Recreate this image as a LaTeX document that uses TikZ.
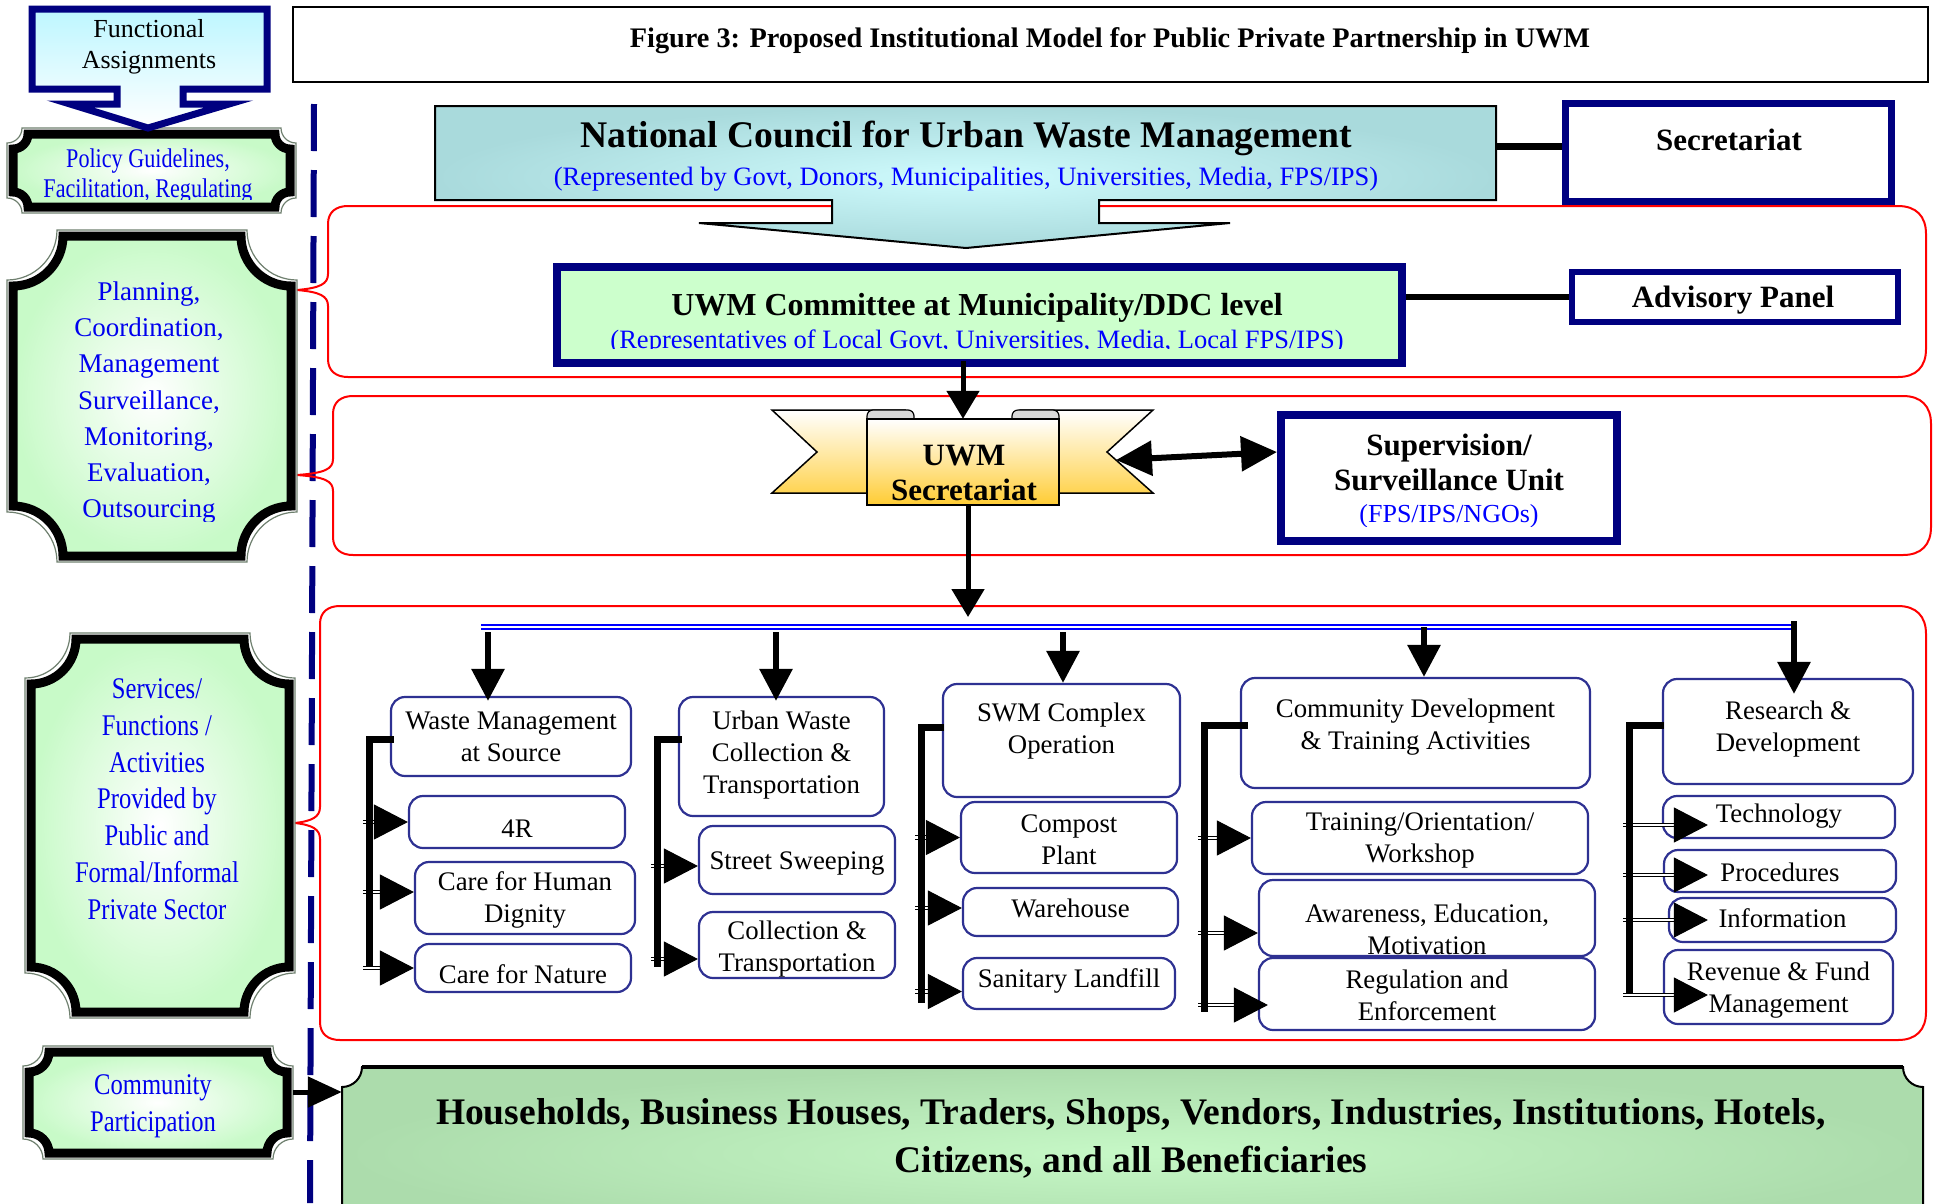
\documentclass[tikz,border=0pt]{standalone}
\usepackage{fontspec}
\setmainfont{Liberation Serif}
\newfontfamily\condfont[FakeStretch=0.82]{Liberation Serif}
\usetikzlibrary{arrows.meta}
\definecolor{navy}{HTML}{000080}
\definecolor{bxblue}{HTML}{2E3192}
\definecolor{tblue}{HTML}{0000FF}
\definecolor{lblue}{HTML}{0000EE}
\definecolor{lgreen}{HTML}{C8FAC8}
\definecolor{cgreen}{HTML}{CCFFCC}
\definecolor{pgreen}{HTML}{C6F8C6}
\definecolor{dgreen}{HTML}{ACDCAC}
\definecolor{tealA}{HTML}{A9DADC}
\definecolor{tealB}{HTML}{CFFBFD}
\definecolor{gold}{HTML}{FFCC33}
\definecolor{cyanA}{HTML}{BDF6FF}
\definecolor{plqgray}{HTML}{6F806F}
\definecolor{rred}{HTML}{FF0000}
\newcommand\fsz[2]{\fontsize{#1pt}{#2pt}\selectfont}
% plaque path: x1 y1 x2 y2 r
\newcommand\plq[5]{(#1+#5,#2) -- (#3-#5,#2) .. controls (#3-#5,#2+0.55*#5) and (#3-0.55*#5,#2+#5) .. (#3,#2+#5) -- (#3,#4-#5) .. controls (#3-0.55*#5,#4-#5) and (#3-#5,#4-0.55*#5) .. (#3-#5,#4) -- (#1+#5,#4) .. controls (#1+#5,#4-0.55*#5) and (#1+0.55*#5,#4-#5) .. (#1,#4-#5) -- (#1,#2+#5) .. controls (#1+0.55*#5,#2+#5) and (#1+#5,#2+0.55*#5) .. (#1+#5,#2) -- cycle}
\newcommand\plaque[5]{%
  \draw[line width=1.2, draw=plqgray] \plq{#1}{#2}{#3}{#4}{#5};
  \shadedraw[inner color=white, outer color=lgreen, draw=black, line width=9] \plq{#1+6}{#2+6}{#3-6}{#4-6}{#5};}
% red brace region: L T R B tipx tipy
\newcommand\redreg[6]{\draw[redl] (#5,#6) .. controls (#1-8,#6-2) and (#1,#6-6) .. (#1,#6-16) -- (#1,#2+18) .. controls (#1,#2+6) and (#1+8,#2) .. (#1+20,#2) -- (#3-28,#2) .. controls (#3-10,#2) and (#3,#2+10) .. (#3,#2+28) -- (#3,#4-28) .. controls (#3,#4-10) and (#3-10,#4) .. (#3-28,#4) -- (#1+20,#4) .. controls (#1+8,#4) and (#1,#4-6) .. (#1,#4-18) -- (#1,#6+16) .. controls (#1,#6+6) and (#1-8,#6+2) .. (#5,#6);}
% sub box: name x1 y1 x2 y2 texty text
\newcommand\mybox[7]{%
  \node[sbx, minimum width={#4-#2}, minimum height={#5-#3}] (#1) at ({(#2+#4)/2},{(#3+#5)/2}) {};
  \node[stx] (#1t) at ({(#2+#4)/2},#6) {#7};}
\begin{document}
\begin{tikzpicture}[x=1pt,y=-1pt,
  redl/.style={draw=rred, line width=2},
  sbx/.style={draw=bxblue, line width=2.2, rounded corners=14, fill=white, inner sep=0},
  stx/.style={font=\fsz{26.8}{32}, align=center, inner sep=0},
  navybox/.style={draw=navy, fill=white, inner sep=0},
  brk/.style={line width=7, line join=miter},
  stubd/.style={draw=black, line width=1.3, double=white, double distance=2.2},
  tipd/.style={line width=1, -{Triangle[length=34pt,width=35pt]}},
  barr/.style={line width=6, -{Triangle[length=32pt,width=32pt]}},
  varr/.style={line width=5, -{Triangle[length=28pt,width=32pt]}},
  ptxt/.style={anchor=base, inner sep=0, text=lblue},
  btxt/.style={anchor=base, inner sep=0, font=\bfseries\fsz{31}{36}},
  invis/.style={inner sep=0}
]
\useasboundingbox (0,0) rectangle (1933,1203);
\fill[white] (0,0) rectangle (1933,1203);

% dashed separator
\draw[navy, line width=6, dash pattern=on 47pt off 19pt] (314,104) -- (310,1203);

% red brace regions
\redreg{328}{206}{1926}{377}{297}{290}
\redreg{333}{396}{1931}{555}{297}{475}
\redreg{320}{606}{1926}{1040}{295}{823}

% title
\node[draw, line width=1.5, minimum width=1635, minimum height=75, inner sep=0] (ttl) at (1110.5,44.5) {};
\node[anchor=base, inner sep=0, font=\bfseries\fsz{28.3}{32}] (ttlt) at (1110,47) {Figure 3: Proposed Institutional Model for Public Private Partnership in UWM};

% left plaques
\plaque{7}{128}{296}{213}{15}
\node[invis, minimum width=289, minimum height=85] (pol) at (151.5,170.5) {};
\begin{scope}
\clip (0,128) rectangle (300,199);
\node[ptxt, font=\condfont\fsz{27}{30}] (polt1) at (148,167) {Policy Guidelines,};
\node[ptxt, font=\condfont\fsz{27}{30}] (polt2) at (148,197) {Facilitation, Regulating};
\end{scope}

\plaque{7}{230}{297}{562}{50}
\node[invis, minimum width=290, minimum height=332] (pln) at (152,396) {};
\begin{scope}
\clip (0,230) rectangle (300,521);
\foreach \y/\t [count=\i] in {300/{Planning,}, 336/{Coordination,}, 372/{Management}, 409/{Surveillance,}, 445/{Monitoring,}, 481/{Evaluation,}, 517/{Outsourcing}}
  \node[ptxt, font=\fsz{27}{30}] (plnt\i) at (149,\y) {\t};
\end{scope}

\plaque{25}{633}{295}{1018}{45}
\node[invis, minimum width=270, minimum height=385] (svc) at (160,825.5) {};
\foreach \y/\t [count=\i] in {698/{Services/}, 735/{Functions /}, 772/{Activities}, 808/{Provided by}, 845/{Public and}, 882/{Formal/Informal}, 919/{Private Sector}}
  \node[ptxt, font=\condfont\fsz{30}{34}] (svct\i) at (157,\y) {\t};

\plaque{23}{1046}{293}{1159}{20}
\node[invis, minimum width=270, minimum height=113] (pcp) at (158,1102.5) {};
\node[ptxt, font=\condfont\fsz{30}{34}] (pcpt1) at (153,1094) {Community};
\node[ptxt, font=\condfont\fsz{30}{34}] (pcpt2) at (153,1131) {Participation};

% functional assignments callout
\shadedraw[top color=cyanA, bottom color=white, draw=navy, line width=7, line join=miter]
  (32,9) -- (267,9) -- (267,89) -- (183,89) -- (183,104) -- (229,104) -- (148,128) -- (70,104) -- (117,104) -- (117,89) -- (32,89) -- cycle;
\node[invis, minimum width=235, minimum height=80] (fa) at (149.5,49) {};
\node[anchor=base, inner sep=0, font=\fsz{26}{31}] (fat1) at (149,37) {Functional};
\node[anchor=base, inner sep=0, font=\fsz{26}{31}] (fat2) at (149,68) {Assignments};

% National council
\shadedraw[inner color=tealB, outer color=tealA, draw=black, line width=2, line join=miter]
  (435,106) -- (1496,106) -- (1496,200) -- (1099,200) -- (1099,223) -- (1230,223) -- (966,248) -- (699,223) -- (832,223) -- (832,200) -- (435,200) -- cycle;
\node[invis, minimum width=1061, minimum height=94] (nc) at (965.5,153) {};
\node[anchor=base, inner sep=0, font=\bfseries\fsz{37.6}{42}] (nct1) at (966,147) {National Council for Urban Waste Management};
\node[anchor=base, inner sep=0, font=\fsz{26.5}{30}, text=tblue] (nct2) at (966,185) {(Represented by Govt, Donors, Municipalities, Universities, Media, FPS/IPS)};

\node[navybox, line width=7, minimum width=326, minimum height=98] (sec) at (1728.5,152.5) {};
\node[btxt] (sect) at (1729,150) {Secretariat};
\draw[line width=7] (nc.east |- 0,146) -- (sec.west |- 0,146);

% committee
\node[navybox, fill=cgreen, line width=8, minimum width=845, minimum height=96] (com) at (979.5,315) {};
\node[btxt, font=\bfseries\fsz{32}{36}] (comt1) at (977,315) {UWM Committee at Municipality/DDC level};
\begin{scope}
\clip (553,263) rectangle (1406,348);
\node[anchor=base, inner sep=0, font=\fsz{26.5}{30}, text=tblue] (comt2) at (977,348) {(Representatives of Local Govt, Universities, Media, Local FPS/IPS)};
\end{scope}
\node[navybox, line width=6, minimum width=326, minimum height=50] (adv) at (1735,297) {};
\node[btxt] (advt) at (1733,307) {Advisory Panel};
\draw[line width=6] (com.east |- adv.west) -- (adv.west);

% UWM secretariat ribbon
\shadedraw[top color=white, bottom color=gold!85, draw=black, line width=1.5, line join=miter]
  (772,410) -- (905,410) -- (905,493) -- (772,493) -- (817,452) -- cycle;
\shadedraw[top color=white, bottom color=gold!85, draw=black, line width=1.5, line join=miter]
  (1153,410) -- (1020,410) -- (1020,493) -- (1153,493) -- (1107,452) -- cycle;
\filldraw[fill=gray!30, draw=black, line width=1.2, rounded corners=6] (867,410) rectangle (914,427);
\filldraw[fill=gray!30, draw=black, line width=1.2, rounded corners=6] (1012,410) rectangle (1059,427);
\shadedraw[top color=white, bottom color=gold, draw=black, line width=1.5] (867,419) -- (1059,419) -- (1059,505) -- (867,505) -- cycle;
\node[invis, minimum width=192, minimum height=86] (rib) at (963,462) {};
\node[btxt] (ribt1) at (964,465) {UWM};
\node[btxt] (ribt2) at (964,500) {Secretariat};
\coordinate (ribR) at (1116,460);

% supervision
\node[navybox, line width=8, minimum width=336, minimum height=126] (sup) at (1449,478) {};
\node[btxt] (supt1) at (1449,455) {Supervision/};
\node[btxt] (supt2) at (1449,490) {Surveillance Unit};
\begin{scope}
\clip (1277,411) rectangle (1621,526);
\node[anchor=base, inner sep=0, font=\fsz{26}{30}, text=tblue] (supt3) at (1449,522) {(FPS/IPS/NGOs)};
\end{scope}
\draw[line width=6, {Triangle[length=36pt,width=34pt]}-{Triangle[length=36pt,width=34pt]}] (ribR) -- ([yshift=26]sup.west);

% vertical arrows
\draw[varr] ([yshift=6]com.south -| rib.north) -- (rib.north);
\coordinate (bartop) at (968,617);
\draw[varr] (rib.south -| bartop) -- (bartop);

% distribution bar
\coordinate (h1) at (481,627);
\coordinate (h2) at (1793,627);
\draw[draw=tblue, line width=2, double=white, double distance=2] (h1) -- (h2);

% sub boxes
\mybox{wms}{391}{697}{631}{776}{737}{Waste Management\\at Source}
\mybox{bfr}{409}{796}{625}{848}{829}{4R}
\mybox{chd}{415}{862}{635}{934}{900}{Care for Human\\Dignity}
\mybox{cfn}{415}{944}{631}{992}{974}{Care for Nature}
\mybox{uwc}{679}{697}{884}{816}{755}{Urban Waste\\Collection \&\\Transportation}
\mybox{ssw}{699}{826}{895}{894}{864}{Street Sweeping}
\mybox{cnt}{699}{912}{895}{978}{949}{Collection \&\\Transportation}
\mybox{swm}{943}{684}{1180}{797}{731}{SWM Complex\\Operation}
\mybox{cpp}{961}{802}{1177}{873}{840}{Compost\\Plant}
\mybox{whs}{963}{888}{1178}{936}{908}{Warehouse}
\mybox{sld}{963}{958}{1175}{1009}{981}{Sanitary Landfill}
\mybox{cdt}{1241}{678}{1590}{788}{727}{Community Development\\\& Training Activities}
\mybox{tow}{1252}{802}{1588}{874}{840}{Training/Orientation/\\Workshop}
\mybox{aem}{1259}{880}{1595}{956}{929}{Awareness, Education,\\Motivation}
\mybox{rae}{1259}{958}{1595}{1030}{995}{Regulation and\\Enforcement}
\mybox{rnd}{1663}{679}{1913}{784}{729}{Research \&\\Development}
\mybox{tec}{1663}{796}{1895}{838}{816}{Technology}
\mybox{pro}{1664}{850}{1896}{892}{872}{Procedures}
\mybox{inf}{1669}{898}{1896}{942}{918}{Information}
\mybox{rev}{1664}{950}{1893}{1024}{990}{Revenue \& Fund\\Management}

% branch arrows from bar
\draw[barr] (488,632) -- ([yshift=-5]wms.north -| 488,0);
\draw[barr] (776,632) -- ([yshift=-5]uwc.north -| 776,0);
\draw[barr] (1063,632) -- (swm.north -| 1063,0);
\draw[barr] (1424,627) -- (cdt.north -| 1424,0);
\draw[barr] (1794,621) -- ([yshift=-16]rnd.north -| 1794,0);

% brackets
\coordinate (k1) at (369,739); \coordinate (k1e) at (369,967);
\coordinate (k2) at (657,739); \coordinate (k2e) at (657,967);
\coordinate (k3) at (921,727); \coordinate (k3e) at (921,1003);
\coordinate (k4) at (1204,725); \coordinate (k4e) at (1204,1012);
\coordinate (k5) at (1629,725); \coordinate (k5e) at (1629,994);
\foreach \k/\b/\dx/\dy in {k1/bfr/0/0, k1/chd/0/6, k1/cfn/0/0, k2/ssw/0/-6, k2/cnt/0/-14, k3/cpp/0/0, k3/whs/0/4, k3/sld/0/-8, k4/tow/0/0, k4/aem/0/-15, k4/rae/10/-11, k5/tec/46/-8, k5/pro/45/-4, k5/inf/40/0, k5/rev/45/-8} {
  \path ([xshift=\dx,yshift=\dy]\b.west) coordinate (tp);
  \draw[stubd] ([xshift=-6]\k |- tp) -- ([xshift=-32]tp);
  \draw[tipd] ([xshift=-34]tp) -- (tp);
}
\draw[brk] ([xshift=4]wms.west |- k1) -- (k1) -- (k1e);
\draw[brk] ([xshift=4]uwc.west |- k2) -- (k2) -- (k2e);
\draw[brk] ([xshift=2]swm.west |- k3) -- (k3) -- (k3e);
\draw[brk] ([xshift=8]cdt.west |- k4) -- (k4) -- (k4e);
\draw[brk] ([xshift=2]rnd.west |- k5) -- (k5) -- (k5e);

% bottom beneficiaries box
\shadedraw[inner color=pgreen, outer color=dgreen, draw=black, line width=2] \plq{342}{1067}{1923}{1240}{20};
\draw[line width=4] (362,1067) -- (1903,1067);
\node[invis, minimum width=1581, minimum height=173] (bot) at (1132.5,1153.5) {};
\node[anchor=base, inner sep=0, font=\bfseries\fsz{37.5}{42}] (bott1) at (1131,1124) {Households, Business Houses, Traders, Shops, Vendors, Industries, Institutions, Hotels,};
\node[anchor=base, inner sep=0, font=\bfseries\fsz{37.5}{42}] (bott2) at (1131,1172) {Citizens, and all Beneficiaries};
\draw[line width=5, -{Triangle[length=34pt,width=30pt]}] ([yshift=10.5]pcp.east) -- (bot.west |- 0,1092);
\end{tikzpicture}
\end{document}
